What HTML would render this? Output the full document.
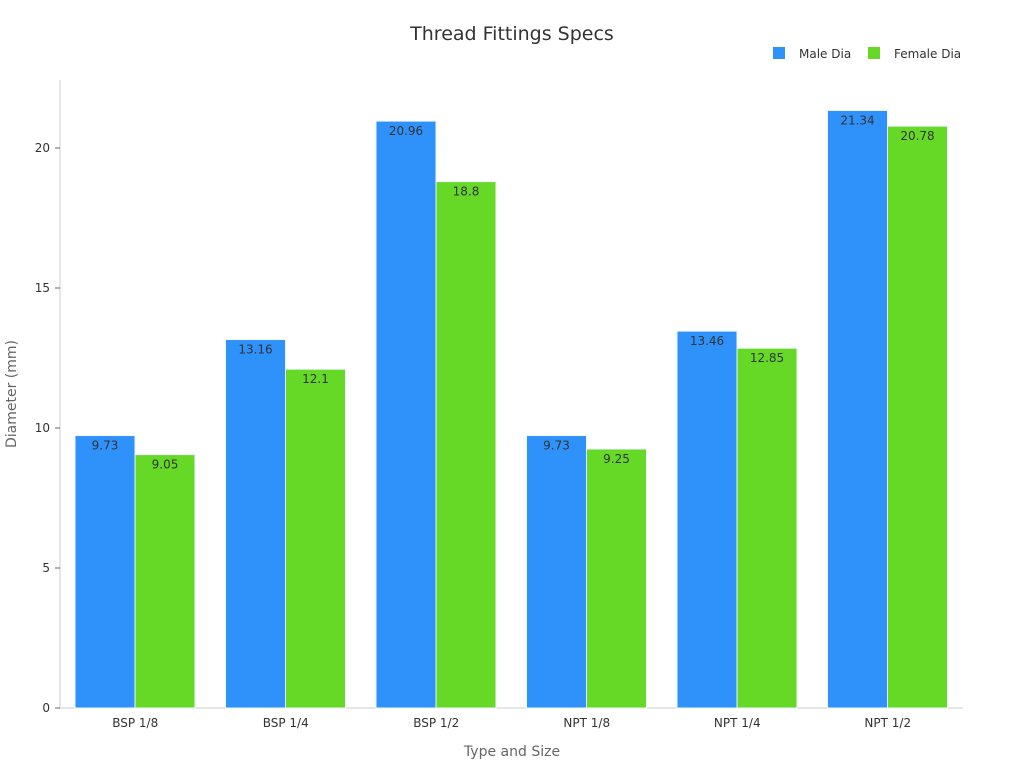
<!DOCTYPE html>
<html><head><meta charset="utf-8"><style>
body{margin:0;background:#fff;font-family:"DejaVu Sans","Liberation Sans",sans-serif}
</style></head><body>
<svg width="1024" height="768" xmlns="http://www.w3.org/2000/svg" font-family="DejaVu Sans, Liberation Sans, sans-serif">
<text x="512" y="40" text-anchor="middle" font-size="19" fill="#333">Thread Fittings Specs</text>
<g>
<rect x="773" y="47" width="12" height="12" fill="#2f92fa"/>
<text x="799" y="58" font-size="12" fill="#333">Male Dia</text>
<rect x="868" y="47" width="12" height="12" fill="#66d927"/>
<text x="894" y="58" font-size="12" fill="#333">Female Dia</text>
</g>
<line x1="60" y1="80" x2="60" y2="708" stroke="#ccc"/>
<line x1="60" y1="708" x2="963" y2="708" stroke="#ccc"/>
<g id="yticks"></g><g id="bars"></g><g id="xticks"></g>
<text x="16" y="394" transform="rotate(-90 16 394)" text-anchor="middle" font-size="14" fill="#666">Diameter (mm)</text>
<text x="512" y="756" text-anchor="middle" font-size="14" fill="#666">Type and Size</text>
</svg>
<script>
const categories=["BSP 1/8","BSP 1/4","BSP 1/2","NPT 1/8","NPT 1/4","NPT 1/2"];
const maleDia=[9.73,13.16,20.96,9.73,13.46,21.34];
const femaleDia=[9.05,12.1,18.8,9.25,12.85,20.78];
const yTicks=[0,5,10,15,20];
const NS="http://www.w3.org/2000/svg";
const x0=60,x1=963,yBase=708,pxPerUnit=28;
const y=v=>yBase-v*pxPerUnit;
const band=(x1-x0)/categories.length;
function mk(tag,attrs,parent){const e=document.createElementNS(NS,tag);for(const k in attrs)e.setAttribute(k,attrs[k]);parent.appendChild(e);return e;}
const yt=document.getElementById('yticks'),bg=document.getElementById('bars'),xt=document.getElementById('xticks');
yTicks.forEach(t=>{
 const l=mk('line',{x1:55,x2:60,y1:y(t),y2:y(t),stroke:'#666'},yt);
 
 
 const tx=mk('text',{x:50,y:y(t)+4,'text-anchor':'end','font-size':12,fill:'#333'},yt);
 tx.textContent=t;
 
 
});
const series=[[maleDia,'#2f92fa','male'],[femaleDia,'#66d927','female']];
categories.forEach((c,i)=>{
 const gx=x0+i*band+15;
 series.forEach(([arr,col,nm],s)=>{
  const v=arr[i],bx=gx+s*60;
  const r=mk('rect',{x:bx,y:y(v),width:60,height:v*pxPerUnit,fill:col,stroke:'#eef6ff','stroke-width':1},bg);
  
  
  const t=mk('text',{x:bx+30,y:y(v)+14,'text-anchor':'middle','font-size':12,fill:'#333'},bg);
  t.textContent=v;
  
  
 });
 const tx=mk('text',{x:x0+i*band+band/2,y:727,'text-anchor':'middle','font-size':12,fill:'#333'},xt);
 tx.textContent=c;
 
 
});
</script>
</body></html>
